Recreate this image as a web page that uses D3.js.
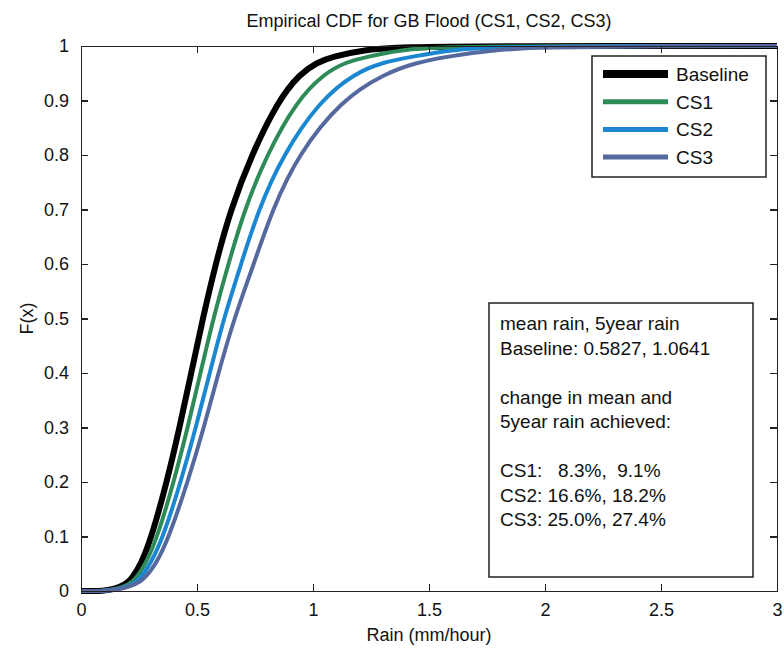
<!DOCTYPE html>
<html>
<head>
<meta charset="utf-8">
<title>Empirical CDF for GB Flood</title>
<style type="text/css">
body{ margin: 0; background: #fff; }
text{ font-family: "Liberation Sans", Arial, sans-serif; fill: #111; }
.axis path, .axis line{ stroke: #222; stroke-width: 1.3; fill: none; shape-rendering: crispEdges; }
</style>
<script type="text/javascript" src="https://cdn.jsdelivr.net/npm/d3@7"></script>
</head>
<body>
<script>
// rain value (mm/hour) where each curve reaches the probability in `probs`
var probs = [0, 0, 0.004, 0.012, 0.02, 0.05, 0.1, 0.2, 0.3, 0.4, 0.5, 0.6, 0.7, 0.8, 0.9, 0.95, 0.97, 0.98, 0.993, 0.998, 1, 1];
var baseX = [0, 0.1, 0.15, 0.19, 0.215, 0.26, 0.305, 0.37, 0.425, 0.475, 0.525, 0.58, 0.645, 0.735, 0.85, 0.945, 1.02, 1.08, 1.22, 1.38, 1.8, 3.0];
var cs1X  = [0, 0.1, 0.16, 0.205, 0.232, 0.28, 0.33, 0.40, 0.46, 0.515, 0.57, 0.635, 0.705, 0.80, 0.93, 1.05, 1.14, 1.23, 1.38, 1.55, 2.0, 3.0];
var cs2X  = [0, 0.1, 0.17, 0.22, 0.25, 0.30, 0.355, 0.43, 0.495, 0.555, 0.615, 0.69, 0.765, 0.87, 1.03, 1.18, 1.3, 1.42, 1.6, 1.78, 2.2, 3.0];
var cs3X  = [0, 0.1, 0.18, 0.235, 0.268, 0.325, 0.38, 0.46, 0.53, 0.592, 0.66, 0.745, 0.825, 0.935, 1.12, 1.31, 1.45, 1.57, 1.78, 2.0, 2.5, 3.0];

var seriesNames = ["Baseline", "CS1", "CS2", "CS3"];
var seriesColors = ["#000000", "#2e8b57", "#1a87d0", "#56699f"];
var seriesWidths = [6, 4, 4, 4];

var xTicks = [0, 0.5, 1, 1.5, 2, 2.5, 3];
var yTicks = [0, 0.1, 0.2, 0.3, 0.4, 0.5, 0.6, 0.7, 0.8, 0.9, 1];

var noteLines = ["mean rain, 5year rain", "Baseline: 0.5827, 1.0641", "",
  "change in mean and", "5year rain achieved:", "",
  "CS1:   8.3%,  9.1%", "CS2: 16.6%, 18.2%", "CS3: 25.0%, 27.4%"];

const width = 784, height = 648,
  margin = {top: 46, right: 7, bottom: 57, left: 81},
  contentWidth = width - margin.left - margin.right,
  contentHeight = height - margin.top - margin.bottom;

const svg = d3.select("body").append("svg").attr("width", width).attr("height", height);

const xScale = d3.scaleLinear().domain([0, 3]).range([0, contentWidth]);
const yScale = d3.scaleLinear().domain([0, 1]).range([contentHeight, 0]);

const content = svg.append("g").attr("transform", `translate(${margin.left}, ${margin.top})`);

// curves in legend order, so CS3 ends up on top where they overlap
const allX = [baseX, cs1X, cs2X, cs3X];
const lineGen = d3.line().x(d => xScale(d[0])).y(d => yScale(d[1])).curve(d3.curveBasis);
allX.forEach((xs, i) => {
  const pts = xs.map((x, j) => [x, probs[j]]);
  content.append("path").datum(pts).attr("d", lineGen)
    .attr("fill", "none").attr("stroke", seriesColors[i]).attr("stroke-width", seriesWidths[i])
    .attr("stroke-linejoin", "round");
});

// axes with inward ticks, mirrored on top/right like matlab's box
const fmt = d => d3.format("")(d);
content.append("g").attr("class", "axis").attr("transform", `translate(0, ${contentHeight})`)
  .call(d3.axisBottom(xScale).tickValues(xTicks).tickFormat(fmt).tickSizeInner(-7).tickSizeOuter(0).tickPadding(12));
content.append("g").attr("class", "axis")
  .call(d3.axisTop(xScale).tickValues(xTicks).tickFormat("").tickSizeInner(-7).tickSizeOuter(0));
content.append("g").attr("class", "axis")
  .call(d3.axisLeft(yScale).tickValues(yTicks).tickFormat(fmt).tickSizeInner(-7).tickSizeOuter(0).tickPadding(12));
content.append("g").attr("class", "axis").attr("transform", `translate(${contentWidth}, 0)`)
  .call(d3.axisRight(yScale).tickValues(yTicks).tickFormat("").tickSizeInner(-7).tickSizeOuter(0));
content.selectAll(".axis text").attr("font-size", 18).attr("font-family", "Liberation Sans, Arial, sans-serif").attr("fill", "#111");

// titles
svg.append("text").attr("x", margin.left + contentWidth / 2).attr("y", 27)
  .attr("text-anchor", "middle").attr("font-size", 18).text("Empirical CDF for GB Flood (CS1, CS2, CS3)");
svg.append("text").attr("x", margin.left + contentWidth / 2).attr("y", 641)
  .attr("text-anchor", "middle").attr("font-size", 18).text("Rain (mm/hour)");
svg.append("text").attr("transform", `translate(33, ${margin.top + contentHeight / 2}) rotate(-90)`)
  .attr("text-anchor", "middle").attr("font-size", 18).text("F(x)");

// legend
const leg = svg.append("g").attr("transform", "translate(592, 56)");
leg.append("rect").attr("width", 174).attr("height", 121).attr("fill", "#fff").attr("stroke", "#222").attr("stroke-width", 1.5);
seriesNames.forEach((name, i) => {
  const yy = 18 + i * 27.7;
  leg.append("line").attr("x1", 11).attr("x2", 76).attr("y1", yy).attr("y2", yy)
    .attr("stroke", seriesColors[i]).attr("stroke-width", i === 0 ? 8 : 5);
  leg.append("text").attr("x", 84).attr("y", yy + 7).attr("font-size", 19).text(name);
});

// annotation box
const note = svg.append("g").attr("transform", "translate(489, 303)");
note.append("rect").attr("width", 264).attr("height", 274).attr("fill", "#fff").attr("stroke", "#222").attr("stroke-width", 1.5);
noteLines.forEach((t, i) => {
  note.append("text").attr("x", 11).attr("y", 27 + i * 24.5).attr("font-size", 19)
    .attr("xml:space", "preserve").style("white-space", "pre").text(t);
});
</script>
</body>
</html>
